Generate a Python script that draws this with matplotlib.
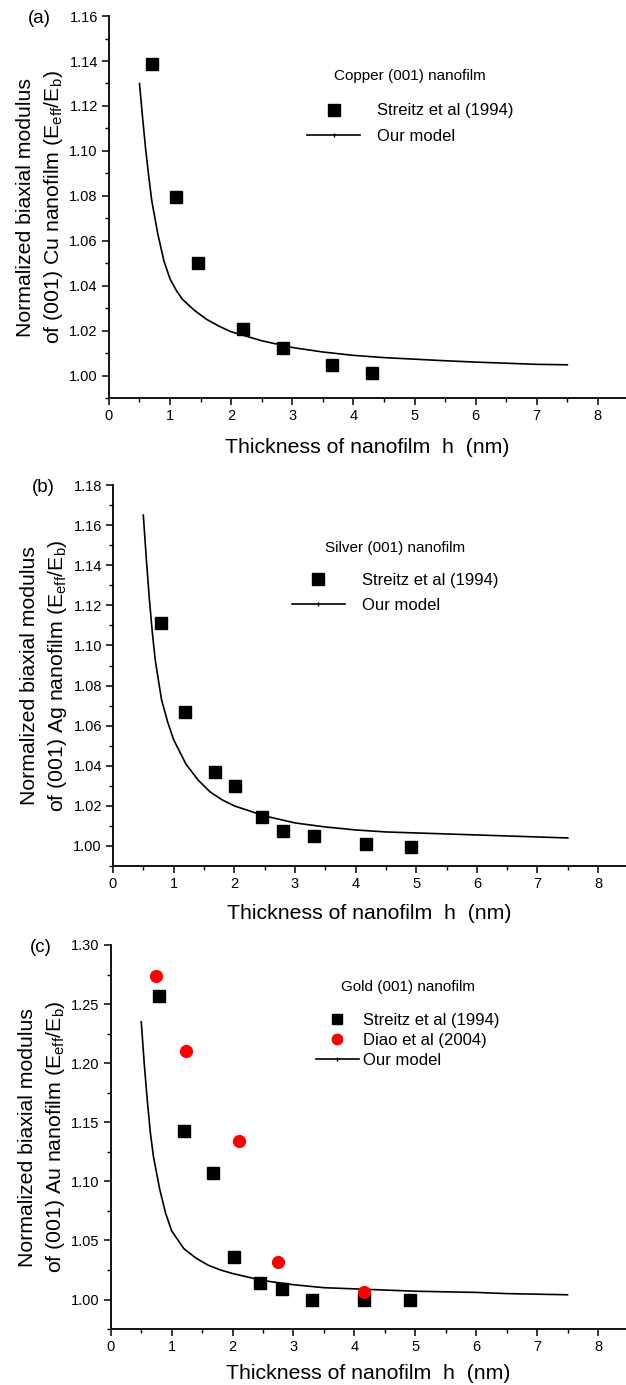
import matplotlib
matplotlib.use("Agg")
import matplotlib.pyplot as plt
from matplotlib.lines import Line2D
from matplotlib.ticker import MultipleLocator, FormatStrFormatter

plt.rcParams['font.family'] = ['Liberation Sans', 'DejaVu Sans']
plt.rcParams['mathtext.fontset'] = 'custom'
plt.rcParams['mathtext.rm'] = 'Liberation Sans'
plt.rcParams['mathtext.it'] = 'Liberation Sans'

# --- (a) Copper ---
cu_h = [0.70, 1.09, 1.45, 2.19, 2.84, 3.65, 4.30]
cu_e = [1.1385, 1.0796, 1.0503, 1.0209, 1.0121, 1.0046, 1.0012]
cu_model_h = [0.5, 0.55, 0.6, 0.65, 0.7, 0.8, 0.9, 1.0, 1.1, 1.2, 1.4, 1.6, 1.8, 2.0,
              2.5, 3.0, 3.5, 4.0, 4.5, 5.0, 5.5, 6.0, 6.5, 7.0, 7.5]
cu_model_e = [1.130, 1.115, 1.101, 1.089, 1.078, 1.063, 1.051, 1.043, 1.038, 1.034, 1.029,
              1.025, 1.022, 1.0195, 1.0155, 1.0125, 1.0105, 1.009, 1.008, 1.0073, 1.0066,
              1.006, 1.0055, 1.005, 1.0048]

# --- (b) Silver ---
ag_h = [0.79, 1.19, 1.69, 2.02, 2.45, 2.81, 3.31, 4.17, 4.91]
ag_e = [1.111, 1.0667, 1.0371, 1.0297, 1.0146, 1.0075, 1.0050, 1.0010, 0.9997]
ag_model_h = [0.5, 0.55, 0.6, 0.65, 0.7, 0.8, 0.9, 1.0, 1.2, 1.4, 1.6, 1.8, 2.0,
              2.5, 3.0, 3.5, 4.0, 4.5, 5.0, 5.5, 6.0, 6.5, 7.0, 7.5]
ag_model_e = [1.165, 1.143, 1.123, 1.106, 1.092, 1.073, 1.062, 1.053, 1.041, 1.033, 1.027,
              1.023, 1.020, 1.015, 1.0115, 1.0095, 1.008, 1.007, 1.0065, 1.006, 1.0055,
              1.005, 1.0045, 1.004]

# --- (c) Gold ---
au_h = [0.79, 1.20, 1.68, 2.02, 2.45, 2.81, 3.30, 4.16, 4.91]
au_e = [1.257, 1.143, 1.107, 1.0358, 1.0141, 1.0085, 1.000, 1.000, 1.000]
au_diao_h = [0.75, 1.24, 2.10, 2.75, 4.16]
au_diao_e = [1.2738, 1.2104, 1.1338, 1.0318, 1.0062]
au_model_h = [0.5, 0.55, 0.6, 0.65, 0.7, 0.8, 0.9, 1.0, 1.2, 1.4, 1.6, 1.8, 2.0,
              2.5, 3.0, 3.5, 4.0, 4.5, 5.0, 5.5, 6.0, 6.5, 7.0, 7.5]
au_model_e = [1.235, 1.199, 1.168, 1.141, 1.121, 1.094, 1.073, 1.058, 1.043, 1.035, 1.029,
              1.025, 1.022, 1.016, 1.0125, 1.010, 1.009, 1.008, 1.007, 1.0065, 1.006,
              1.005, 1.0045, 1.004]

fig = plt.figure(figsize=(6.26, 13.85), dpi=100)


def panel(rect, tag, metal, title, ylim, ymaj, model_h, model_e, series,
          leg_anchor, spacing, hlen, hpad, sep, leg_ms, xpad):
    ax = fig.add_axes(rect)
    handles = []
    labels = []
    for h, e, mk, col, lab in series:
        ax.plot(h, e, ls='none', marker=mk, ms=8.5, color=col, mec=col, zorder=3)
        handles.append(Line2D([], [], ls='none', marker=mk, ms=leg_ms, color=col, mec=col))
        labels.append(lab)
    ax.plot(model_h, model_e, color='k', lw=1.2, zorder=2)
    handles.append(Line2D([], [], color='k', lw=1.2, marker='|', ms=3))
    labels.append('Our model')

    ax.set_xlim(0, 8.46)
    ax.set_ylim(*ylim)
    ax.xaxis.set_major_locator(MultipleLocator(1))
    ax.xaxis.set_minor_locator(MultipleLocator(0.5))
    ax.yaxis.set_major_locator(MultipleLocator(ymaj))
    ax.yaxis.set_minor_locator(MultipleLocator(ymaj / 2))
    ax.yaxis.set_major_formatter(FormatStrFormatter('%.2f'))
    for s in ['top', 'right']:
        ax.spines[s].set_visible(False)
    for s in ['left', 'bottom']:
        ax.spines[s].set_linewidth(1.3)
    ax.tick_params(which='major', direction='out', length=5, width=1.1, labelsize=10.5, pad=3)
    ax.tick_params(which='minor', direction='out', length=3, width=1.0)

    ax.set_xlabel('Thickness of nanofilm  h  (nm)', fontsize=15.3, labelpad=xpad)
    ax.set_ylabel('Normalized biaxial modulus\nof (001) ' + metal +
                  r' nanofilm ($\mathregular{E_{eff}/E_b}$)',
                  fontsize=15.3, labelpad=3, linespacing=1.4)

    leg = ax.legend(handles, labels, title=title, loc='upper left', bbox_to_anchor=leg_anchor,
                    frameon=False, fontsize=12, title_fontsize=11, handlelength=hlen,
                    handletextpad=hpad, labelspacing=spacing, borderaxespad=0)
    leg._legend_box.sep = sep
    fig.text(rect[0] - 0.13, rect[1] + rect[3] - 0.002, tag, fontsize=13.5, va='center')
    return ax


panel([0.174, 0.7126, 0.826, 0.2758], '(a)', 'Cu', 'Copper (001) nanofilm',
      (0.990, 1.16), 0.02, cu_model_h, cu_model_e,
      [(cu_h, cu_e, 's', 'black', 'Streitz et al (1994)')], (0.37, 0.88), 0.62, 3.2, 1.0, 15,
      8.5, 11)

panel([0.1805, 0.3747, 0.8195, 0.2751], '(b)', 'Ag', 'Silver (001) nanofilm',
      (0.990, 1.18), 0.02, ag_model_h, ag_model_e,
      [(ag_h, ag_e, 's', 'black', 'Streitz et al (1994)')], (0.335, 0.87), 0.56, 3.2, 1.0, 13,
      8.5, 9)

panel([0.177, 0.0404, 0.823, 0.2773], '(c)', 'Au', 'Gold (001) nanofilm',
      (0.975, 1.30), 0.05, au_model_h, au_model_e,
      [(au_h, au_e, 's', 'black', 'Streitz et al (1994)'),
       (au_diao_h, au_diao_e, 'o', '#ff0000', 'Diao et al (2004)')], (0.385, 0.925),
      0.32, 2.6, 0.25, 13, 7.5, 7)

fig.savefig('out.png', dpi=100)
